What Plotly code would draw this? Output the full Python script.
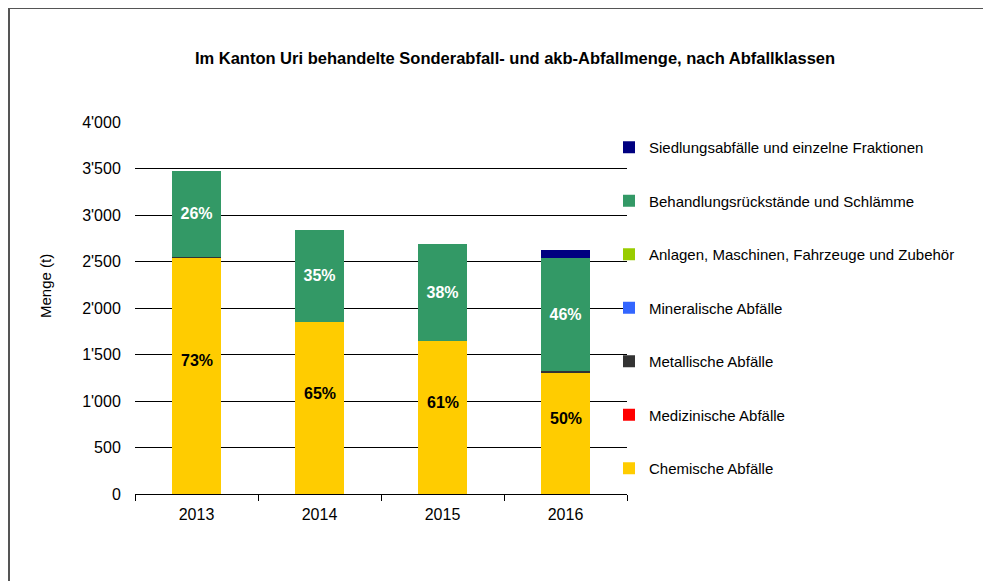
import plotly.graph_objects as go

years = ["2013", "2014", "2015", "2016"]

chemische = [2540, 1849, 1642, 1310]
medizinische = [0, 0, 0, 0]
metallische = [12, 0, 0, 10]
mineralische = [0, 0, 0, 0]
anlagen = [0, 0, 0, 0]
behandlung = [921, 993, 1046, 1218]
siedlung = [0, 0, 0, 86]

chem_labels = ["73%", "65%", "61%", "50%"]
behandlung_labels = ["26%", "35%", "38%", "46%"]

series = [
    ("Chemische Abfälle", chemische, "#FFCC00"),
    ("Medizinische Abfälle", medizinische, "#FF0000"),
    ("Metallische Abfälle", metallische, "#333333"),
    ("Mineralische Abfälle", mineralische, "#3366FF"),
    ("Anlagen, Maschinen, Fahrzeuge und Zubehör", anlagen, "#99CC00"),
    ("Behandlungsrückstände und Schlämme", behandlung, "#339966"),
    ("Siedlungsabfälle und einzelne Fraktionen", siedlung, "#000080"),
]

FONT = "Liberation Sans, Arial, sans-serif"

# page offset of the figure inside the browser (body margin)
OFF = 8
W, H = 991 - OFF, 581 - OFF
L, T = 135 - OFF, 122 - OFF
PW, PH = 492, 372

fig = go.Figure()
n = len(series)
for i, (name, vals, color) in enumerate(series):
    kw = dict(textposition="none")
    if name.startswith("Behandlung"):
        kw = dict(text=behandlung_labels, textposition="inside", insidetextanchor="middle",
                  textfont=dict(family=FONT, size=16, color="#FFFFFF"),
                  texttemplate="<b>%{text}</b>")
    fig.add_trace(go.Bar(
        x=years, y=vals, name=name,
        marker=dict(color=color, line=dict(width=0)),
        legendgroup=f"g{i}", legendrank=n - i,
        hoverinfo="skip",
        **kw,
    ))

annotations = []
for idx, (v, lab) in enumerate(zip(chemische, chem_labels)):
    annotations.append(dict(
        x=idx, y=v / 2, xref="x", yref="y", text=f"<b>{lab}</b>",
        showarrow=False, yshift=15,
        font=dict(family=FONT, size=16, color="#000000"),
    ))

annotations.append(dict(
    text="Menge (t)", textangle=-90,
    xref="paper", yref="paper",
    x=(45 - 135) / PW, y=(494 - 286) / PH,
    xanchor="center", yanchor="middle", showarrow=False,
    font=dict(family=FONT, size=15, color="#000000"),
))

fig.update_layout(
    barmode="stack",
    bargap=0.6,
    width=W, height=H,
    margin=dict(l=L, r=W - L - PW, t=T, b=H - T - PH),
    paper_bgcolor="white",
    plot_bgcolor="white",
    separators=".'",
    font=dict(family=FONT, size=14, color="#000000"),
    title=dict(
        text="<b>Im Kanton Uri behandelte Sonderabfall- und akb-Abfallmenge, nach Abfallklassen</b>",
        font=dict(family=FONT, size=16.5, color="#000000"),
        x=(515 - OFF) / W, xanchor="center", xref="container",
        y=1 - (58 - OFF) / H, yanchor="middle", yref="container",
    ),
    legend=dict(
        x=(609 - 135) / PW, xanchor="left",
        y=(494 - 131) / PH, yanchor="top",
        traceorder="grouped",
        tracegroupgap=31,
        font=dict(family=FONT, size=15, color="#000000"),
        bgcolor="rgba(0,0,0,0)",
    ),
    xaxis=dict(
        type="category", categoryorder="array", categoryarray=years,
        range=[-0.5, len(years) - 0.5],
        showline=True, linecolor="#000000", linewidth=1,
        ticks="outside", tickson="boundaries", ticklen=6, tickcolor="#000000",
        ticklabelstandoff=6,
        tickfont=dict(family=FONT, size=16, color="#000000"),
        showgrid=False,
    ),
    yaxis=dict(
        range=[0, 4000], dtick=500, tickformat=",",
        showgrid=True, gridcolor="#000000", gridwidth=1,
        showline=False, zeroline=False,
        ticks="outside", ticklen=10, tickcolor="rgba(0,0,0,0)",
        tickfont=dict(family=FONT, size=16, color="#000000"),
    ),
    annotations=annotations,
    shapes=[dict(
        type="rect", xref="paper", yref="paper",
        x0=(9 - 135) / PW, x1=(986 - 135) / PW,
        y0=(494 - 600) / PH, y1=(494 - 8) / PH,
        line=dict(color="#555555", width=2), fillcolor="rgba(0,0,0,0)",
        layer="below",
    )],
)

fig.write_html("out.html")
